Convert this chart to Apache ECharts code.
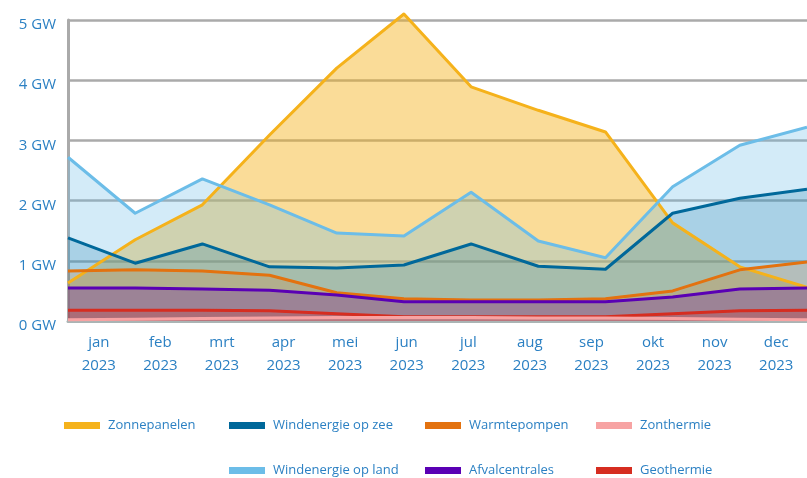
<!DOCTYPE html>
<html>
<head>
<meta charset="utf-8">
<script src="https://cdn.jsdelivr.net/npm/echarts@6/dist/echarts.min.js"></script>
<style>
  html, body { margin: 0; padding: 0; background: #fff; }
  #main { width: 807px; height: 478px; }
</style>
</head>
<body>
<div id="main"></div>
<script>
// maanden
var maanden = ['jan', 'feb', 'mrt', 'apr', 'mei', 'jun', 'jul', 'aug', 'sep', 'okt', 'nov', 'dec'];
var jaar = '2023';

var zonnepanelen = [0.63, 1.35, 1.93, 3.09, 4.2, 5.1, 3.89, 3.5, 3.14, 1.63, 0.9, 0.56];
var windLand = [2.72, 1.79, 2.36, 1.93, 1.46, 1.41, 2.14, 1.33, 1.05, 2.23, 2.92, 3.22];
var windZee = [1.38, 0.96, 1.28, 0.9, 0.88, 0.93, 1.28, 0.91, 0.86, 1.79, 2.04, 2.19];
var warmtepompen = [0.83, 0.85, 0.83, 0.76, 0.47, 0.37, 0.35, 0.35, 0.37, 0.5, 0.85, 0.98];
var afvalcentrales = [0.55, 0.55, 0.53, 0.51, 0.43, 0.32, 0.32, 0.32, 0.32, 0.4, 0.53, 0.55];
var geothermie = [0.18, 0.18, 0.18, 0.17, 0.12, 0.07, 0.07, 0.07, 0.07, 0.12, 0.17, 0.18];
var zonthermie = [0.02, 0.03, 0.04, 0.05, 0.06, 0.06, 0.06, 0.05, 0.05, 0.04, 0.03, 0.02];

var tekstKleur = '#2b80c3';
var font = 'Open Sans';

var dom = document.getElementById('main');
var myChart = echarts.init(dom, null, { renderer: 'canvas' });

function reeks(naam, data, kleur, opacity) {
    return {
        name: naam,
        type: 'line',
        data: data,
        color: kleur,
        showSymbol: false,
        clip: false,
        lineStyle: { width: 3, color: kleur, join: 'round' },
        areaStyle: { color: kleur, opacity: opacity },
        itemStyle: { color: kleur }
    };
}

// een legenda per item, zodat de kolommen gelijk staan
function legendaItem(naam, left, top) {
    return {
        data: [naam],
        left: left,
        top: top,
        padding: 0,
        icon: 'rect',
        itemWidth: 36,
        itemHeight: 7,
        itemGap: 8,
        selectedMode: false,
        textStyle: { color: tekstKleur, fontSize: 13, fontFamily: font, padding: [0, 0, 0, 3] }
    };
}

var option = {
    animation: false,
    grid: { left: 68, right: 0, top: 20, bottom: 157 },
    legend: [
        legendaItem('Zonnepanelen', 64, 419),
        legendaItem('Windenergie op zee', 229, 419),
        legendaItem('Warmtepompen', 425, 419),
        legendaItem('Zonthermie', 596, 419),
        legendaItem('Windenergie op land', 229, 464),
        legendaItem('Afvalcentrales', 425, 464),
        legendaItem('Geothermie', 596, 464)
    ],
    xAxis: [
        {
            type: 'category',
            data: maanden,
            boundaryGap: false,
            axisLine: { show: true, lineStyle: { color: '#aab4b4', width: 3 } },
            axisTick: { show: false },
            axisLabel: { show: false },
            splitLine: { show: false }
        },
        {
            type: 'category',
            data: maanden,
            boundaryGap: true,
            position: 'bottom',
            axisLine: { show: false },
            axisTick: { show: false },
            axisLabel: {
                margin: 10,
                color: tekstKleur,
                fontSize: 15,
                fontFamily: font,
                lineHeight: 23,
                formatter: function (v) { return v + '\n' + jaar; }
            }
        }
    ],
    yAxis: {
        type: 'value',
        min: 0,
        max: 5,
        interval: 1,
        axisLine: { show: true, lineStyle: { color: '#aaaaaa', width: 3 } },
        axisTick: { show: false },
        axisLabel: {
            margin: 12,
            color: tekstKleur,
            fontSize: 15,
            fontFamily: font,
            verticalAlign: 'top',
            lineHeight: 10,
            formatter: '{value} GW'
        },
        splitLine: { lineStyle: { color: '#aaaaaa', width: 2.5 } }
    },
    series: [
        reeks('Zonnepanelen', zonnepanelen, '#f5b21b', 0.45),
        reeks('Windenergie op land', windLand, '#6cbde8', 0.3),
        reeks('Windenergie op zee', windZee, '#00689a', 0.2),
        reeks('Warmtepompen', warmtepompen, '#e3720f', 0.2),
        reeks('Afvalcentrales', afvalcentrales, '#5a00b4', 0.25),
        reeks('Geothermie', geothermie, '#d62d20', 0.25),
        reeks('Zonthermie', zonthermie, '#f7a3a3', 0.3)
    ]
};

myChart.setOption(option);
</script>
</body>
</html>
